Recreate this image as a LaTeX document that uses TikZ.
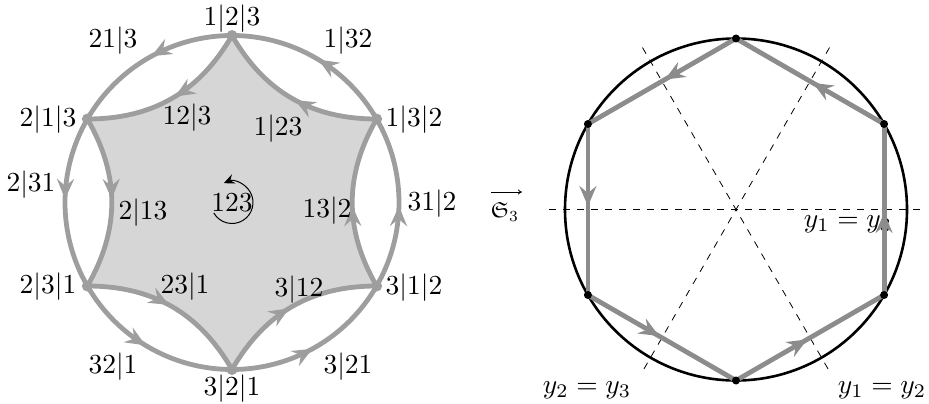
\documentclass[tikz,border=0pt]{standalone}
\usepackage{amssymb}
\usetikzlibrary{arrows.meta,decorations.markings}
\definecolor{edgegray}{RGB}{158,158,158}
\definecolor{fillgray}{RGB}{214,214,214}
\definecolor{hexgray}{RGB}{140,140,140}
\tikzset{
  midarrow/.style={postaction={decorate,decoration={markings,
      mark=at position #1 with {\arrow{Stealth[length=20pt,width=17pt,inset=7pt]}}}}},
  midarrow/.default=0.48,
  edge/.style={draw=edgegray,line width=4.8pt},
  hexedge/.style={draw=hexgray,line width=4.8pt},
  dashline/.style={draw=black,line width=0.8pt,dash pattern=on 7pt off 7pt},
  lab/.style={font=\normalsize,inner sep=0pt,scale=2.75},
  small/.style={font=\normalsize,inner sep=0pt,scale=2.2}
}
\begin{document}
\begin{tikzpicture}[x=1pt,y=-1pt]
\useasboundingbox (0,0) rectangle (929,404);
% ---------- left ----------
\coordinate (O) at (232,202.5);
\foreach \n/\a in {A/-90,B/-150,C/150,D/90,E/30,F/-30}
  \coordinate (\n) at ([shift={(\a:167)}]O);
\fill[fillgray] (A) to[bend left=30] (B) to[bend left=30] (C) to[bend left=30] (D)
  to[bend left=30] (E) to[bend left=30] (F) to[bend left=30] (A) -- cycle;
\foreach \s/\t in {A/B,B/C,C/D,D/E,E/F,F/A}
  \draw[edge,midarrow] (\s) to[bend left=30] (\t);
\draw[edge,midarrow] (A) arc[start angle=-90,end angle=-150,radius=167];
\draw[edge,midarrow] (B) arc[start angle=-150,end angle=-210,radius=167];
\draw[edge,midarrow] (C) arc[start angle=150,end angle=90,radius=167];
\draw[edge,midarrow] (D) arc[start angle=90,end angle=30,radius=167];
\draw[edge,midarrow] (E) arc[start angle=30,end angle=-30,radius=167];
\draw[edge,midarrow] (F) arc[start angle=-30,end angle=-90,radius=167];
\foreach \n in {A,B,C,D,E,F} \fill[edgegray] (\n) circle[radius=5.5];
\draw[line width=1pt,-{Stealth[length=11pt,width=10pt,inset=4pt]}]
  ([shift={(150:21)}]O) arc[start angle=150,end angle=-113,radius=21];
\node[lab] (l123) at (232,203) {$123$};
\node[lab] (lA) at (232,19) {$1|2|3$};
\node[lab] (lD) at (232,389) {$3|2|1$};
\node[lab] (lB) at (48,120) {$2|1|3$};
\node[lab] (lC) at (48,287) {$2|3|1$};
\node[lab] (lF) at (414,120) {$1|3|2$};
\node[lab] (lE) at (414,288) {$3|1|2$};
\node[lab] (o1) at (113,41) {$21|3$};
\node[lab] (o2) at (348,41) {$1|32$};
\node[lab] (o3) at (31,185) {$2|31$};
\node[lab] (o4) at (432,204) {$31|2$};
\node[lab] (o5) at (113,367) {$32|1$};
\node[lab] (o6) at (348,367) {$3|21$};
\node[lab] (i1) at (187,118) {$12|3$};
\node[lab] (i2) at (278,129) {$1|23$};
\node[lab] (i3) at (143,213) {$2|13$};
\node[lab] (i4) at (327,211) {$13|2$};
\node[lab] (i5) at (185,287) {$23|1$};
\node[lab] (i6) at (299,290) {$3|12$};
% ---------- middle arrow ----------
\coordinate (sa) at (491,192);
\coordinate (sb) at (522,192);
\draw[line width=0.8pt,-{To[length=4pt,width=5pt]}] (sa) -- (sb);
\node[small] (S3) at (505,212) {$\mathfrak{S}_3$};
% ---------- right ----------
\coordinate (P) at (736,209.5);
\foreach \n/\a in {Q1/-90,Q2/-150,Q3/150,Q4/90,Q5/30,Q6/-30}
  \coordinate (\n) at ([shift={(\a:171)}]P);
\foreach \n/\a in {h1/0,h2/180,d1/60,d2/-120,d3/120,d4/-60}
  \coordinate (\n) at ([shift={(\a:187)}]P);
\draw[dashline] (h2) -- (h1);
\draw[dashline] (d2) -- (d1);
\draw[dashline] (d4) -- (d3);
\node[lab] (y13) at (848,224) {$y_1 = y_3$};
\node[lab] (y23) at (587,390) {$y_2 = y_3$};
\node[lab] (y12) at (882,390) {$y_1 = y_2$};
\draw[line width=2.6pt] (P) circle[radius=171];
\foreach \s/\t in {Q1/Q2,Q2/Q3,Q3/Q4,Q4/Q5,Q5/Q6,Q6/Q1}
  \draw[hexedge,midarrow] (\s) -- (\t);
\foreach \n in {Q1,Q2,Q3,Q4,Q5,Q6} \fill[black] (\n) circle[radius=4];
\end{tikzpicture}
\end{document}
